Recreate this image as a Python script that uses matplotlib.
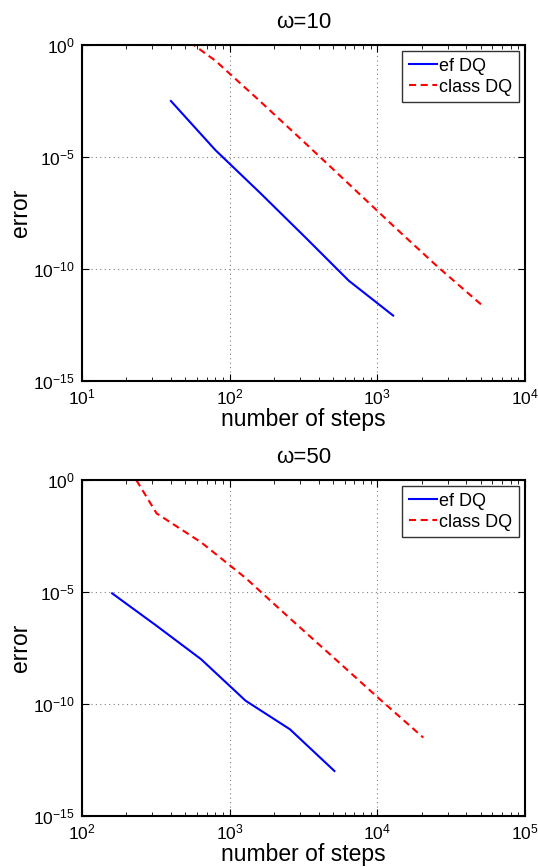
import numpy as np
import matplotlib
matplotlib.use("Agg")
import matplotlib.pyplot as plt
from matplotlib.ticker import LogLocator, NullLocator

# ====================================
# DATA
# ====================================

steps_w10_ef = [40, 80, 160, 320, 640, 1280]
err_w10_ef = [10**-2.5, 10**-4.69, 10**-6.59, 10**-8.54, 10**-10.52, 10**-12.08]

steps_w10_cl = [40, 80, 160, 320, 640, 1280, 2560, 5120]
err_w10_cl = [10**0.74, 10**-0.70, 10**-2.5, 10**-4.34, 10**-6.2, 10**-8.07, 10**-9.9, 10**-11.62]

steps_w50_ef = [160, 320, 640, 1280, 2560, 5120]
err_w50_ef = [10**-5.06, 10**-6.51, 10**-8.0, 10**-9.85, 10**-11.13, 10**-12.99]

steps_w50_cl = [160, 320, 640, 1280, 2560, 5120, 10240, 20480]
err_w50_cl = [10**1.77, 10**-1.49, 10**-2.78, 10**-4.37, 10**-6.18, 10**-7.96, 10**-9.75, 10**-11.5]

titles = ["\u03c9=10", "\u03c9=50"]
xlims = [(1e1, 1e4), (1e2, 1e5)]
yticks = [1e0, 1e-5, 1e-10, 1e-15]
legend_labels = ["ef DQ", "class DQ"]

# ====================================
# FIGURE
# ====================================

plt.rcParams["font.family"] = ["Liberation Sans", "DejaVu Sans"]
plt.rcParams["mathtext.fontset"] = "custom"
plt.rcParams["mathtext.rm"] = "Liberation Sans"
plt.rcParams["mathtext.it"] = "Liberation Sans"
plt.rcParams["mathtext.default"] = "regular"

fig = plt.figure(figsize=(5.38, 8.67), dpi=100)
W, H = 538, 867
ax_boxes = [(82, 45, 525, 381), (82, 480, 525, 816)]

series = [
    (steps_w10_ef, err_w10_ef, steps_w10_cl, err_w10_cl),
    (steps_w50_ef, err_w50_ef, steps_w50_cl, err_w50_cl),
]

for i, (x0, y0, x1, y1) in enumerate(ax_boxes):
    ax = fig.add_axes([x0 / W, 1 - y1 / H, (x1 - x0) / W, (y1 - y0) / H])
    sx_ef, se_ef, sx_cl, se_cl = series[i]

    ax.loglog(sx_ef, se_ef, color="#0000ff", lw=1.5, label=legend_labels[0])
    ax.loglog(sx_cl, se_cl, color="#ff0000", lw=1.5, ls=(0, (3.4, 2.2)),
              label=legend_labels[1])

    ax.set_xlim(*xlims[i])
    ax.set_ylim(1e-15, 1e0)
    ax.set_yticks(yticks)
    ax.yaxis.set_minor_locator(NullLocator())
    ax.xaxis.set_major_locator(LogLocator(base=10, numticks=10))
    ax.xaxis.set_minor_locator(LogLocator(base=10, subs=np.arange(2, 10), numticks=20))

    ax.grid(True, which="major", ls=(0, (1, 3)), color="#808080", lw=0.8)
    ax.tick_params(which="both", direction="in", top=True, right=True,
                   labelsize=12.5, pad=5)
    ax.tick_params(which="major", length=5, width=0.8)
    ax.tick_params(which="minor", length=3, width=0.6)
    for sp in ax.spines.values():
        sp.set_linewidth(1.5)

    ax.set_title(titles[i], fontsize=16, pad=12)
    ax.set_xlabel("number of steps", fontsize=16.5, labelpad=0)
    ax.set_ylabel("error", fontsize=16.5, labelpad=1)

    leg = ax.legend(loc="upper right", fontsize=13, frameon=True, fancybox=False,
                    edgecolor="black", handlelength=1.6, handletextpad=0.1,
                    borderpad=0.35, labelspacing=0.22, borderaxespad=0.35)
    leg.get_frame().set_linewidth(1.0)

fig.savefig("out.png", dpi=100)
